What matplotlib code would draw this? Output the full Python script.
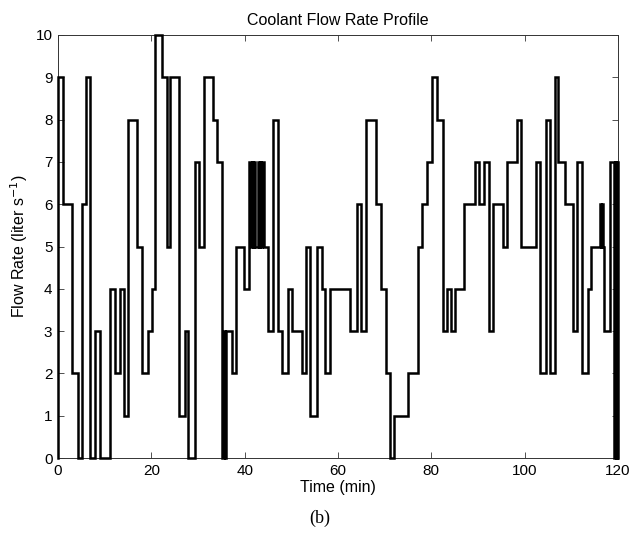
import matplotlib
matplotlib.use("Agg")
import matplotlib.pyplot as plt
import numpy as np

# Step start times (min) and flow rate values (liter/s)
times = [0.0, 0.0, 1.0, 3.1, 4.2, 5.2, 6.1, 6.8, 8.0, 9.1,
         11.1, 12.3, 13.2, 14.2, 15.1, 17.0, 18.0, 19.2, 20.2, 20.8,
         22.2, 23.3, 24.1, 26.0, 27.2, 27.9, 29.3, 30.3, 31.2, 33.3,
         34.0, 35.2, 35.5, 35.7, 36.0, 37.2, 38.1, 39.9,
         41.0, 41.3, 41.5, 41.8, 42.0, 42.3,
         42.8, 43.1, 43.3, 43.6, 43.8, 44.1, 44.3,
         45.0, 46.0, 47.2, 48.1, 49.3, 50.1, 52.3, 53.2, 54.0,
         55.4, 56.5, 57.2, 58.3, 62.5, 64.0, 65.0, 66.1, 68.2, 69.2,
         70.3, 71.2, 72.1, 75.1, 77.2, 78.1, 79.0, 80.2, 81.2, 82.4,
         83.3, 84.2, 85.0, 87.1, 89.4, 90.3, 91.3, 92.4, 93.3, 95.3,
         96.3, 98.4, 99.2, 102.5, 103.2, 104.5, 105.5, 106.4, 107.2, 108.7,
         110.4, 111.2, 112.2, 113.5, 114.2,
         116.1, 116.35, 116.55, 116.8, 117.1,
         118.2, 119.2, 119.4, 119.6, 119.8, 120.0]
values = [0, 9, 6, 2, 0, 6, 9, 0, 3, 0,
          4, 2, 4, 1, 8, 5, 2, 3, 4, 10,
          9, 5, 9, 1, 3, 0, 7, 5, 9, 8,
          7, 0, 3, 0, 3, 2, 5, 4,
          7, 5, 7, 5, 7, 5,
          7, 5, 7, 5, 7, 5, 5,
          3, 8, 3, 2, 4, 3, 2, 5, 1,
          5, 4, 2, 4, 3, 6, 3, 8, 6, 4,
          2, 0, 1, 2, 5, 6, 7, 9, 8, 3,
          4, 3, 4, 6, 7, 6, 7, 3, 6, 5,
          7, 8, 5, 7, 2, 8, 2, 9, 7, 6,
          3, 7, 2, 4, 5,
          6, 5, 6, 5, 3,
          7, 0, 7, 0, 7, 0]

x_ticks = [0, 20, 40, 60, 80, 100, 120]
y_ticks = list(range(0, 11))

plt.rcParams['font.family'] = ['Liberation Sans', 'DejaVu Sans']

fig = plt.figure(figsize=(6.35, 5.33), dpi=100)
ax = fig.add_axes([58/635, 1 - 458/533, 560/635, 423/533])

t = np.array(times)
v = np.array(values)
ax.plot(t, v, drawstyle='steps-post', color='black', lw=1.8, clip_on=False,
        solid_joinstyle='miter', zorder=3)

ax.set_xlim(0, 120)
ax.set_ylim(0, 10)
ax.set_xticks(x_ticks)
ax.set_yticks(y_ticks)
ax.tick_params(direction='in', top=True, right=True, length=4, width=0.6,
               labelsize=11, color='#333333', pad=4)
for s in ax.spines.values():
    s.set_linewidth(0.7)
    s.set_color('#333333')

ax.set_title('Coolant Flow Rate Profile', fontsize=11.5, pad=7)
ax.set_xlabel('Time (min)', fontsize=11.5, labelpad=2)
ax.set_ylabel('Flow Rate (liter s$^{-1}$)', fontsize=11.5, labelpad=4)

fig.text(0.503, 1 - 518/533, '(b)', ha='center', va='center',
         fontsize=13, family=['Liberation Serif', 'DejaVu Serif'])

fig.savefig('out.png', dpi=100)
